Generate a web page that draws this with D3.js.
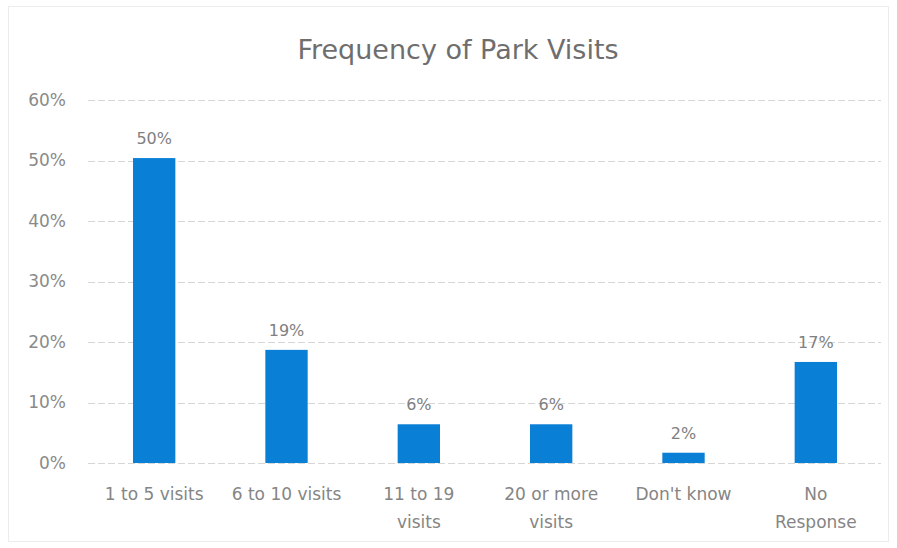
<!DOCTYPE html>
<html>
<head>
<meta charset="utf-8">
<script src="https://cdn.jsdelivr.net/npm/d3@7"></script>
<style>
  html, body { margin: 0; padding: 0; background: #fff; }
  svg { display: block; font-family: "DejaVu Sans", "Open Sans", sans-serif; }
</style>
</head>
<body>
<div id="chart"></div>
<script>
// 차트 데이터
const categories = ["1 to 5 visits", "6 to 10 visits", "11 to 19 visits", "20 or more visits", "Don't know", "No Response"];
const categoryLines = [["1 to 5 visits"], ["6 to 10 visits"], ["11 to 19", "visits"], ["20 or more", "visits"], ["Don't know"], ["No", "Response"]];
const values = [50.4, 18.7, 6.4, 6.4, 1.7, 16.7];
const valueLabels = ["50%", "19%", "6%", "6%", "2%", "17%"];
const yTicks = [0, 10, 20, 30, 40, 50, 60];

const WIDTH = 897, HEIGHT = 548;
const margin = { top: 100, right: 16, bottom: 85, left: 88 };

const svg = d3.select('#chart').append('svg')
  .attr('width', WIDTH)
  .attr('height', HEIGHT);

// 바깥 테두리
svg.append('rect')
  .attr('x', 8.5).attr('y', 6.5)
  .attr('width', WIDTH - 17).attr('height', HEIGHT - 13)
  .attr('fill', 'none')
  .attr('stroke', '#ececec');

const x = d3.scaleBand()
  .domain(categories)
  .range([margin.left, 882])
  .paddingInner(0.68)
  .paddingOuter(0.34);

const y = d3.scaleLinear()
  .domain([0, 60])
  .range([HEIGHT - margin.bottom, margin.top]);

// 제목
svg.append('text')
  .attr('x', 458).attr('y', 59)
  .attr('text-anchor', 'middle')
  .attr('fill', '#6e6e6e')
  .attr('font-size', 27)
  .text('Frequency of Park Visits');

// 그리드
svg.append('g')
  .selectAll('line')
  .data(yTicks)
  .join('line')
  .attr('x1', margin.left).attr('x2', WIDTH - margin.right)
  .attr('y1', d => Math.round(y(d)) + 0.5)
  .attr('y2', d => Math.round(y(d)) + 0.5)
  .attr('stroke', '#d6d6d6')
  .attr('stroke-width', 1)
  .attr('stroke-dasharray', '7 3');

// y축 라벨
const yAxis = d3.axisLeft(y).tickValues(yTicks).tickFormat(d => d + '%').tickSize(0).tickPadding(22);
const yg = svg.append('g')
  .attr('transform', `translate(${margin.left},0)`)
  .call(yAxis);
yg.select('.domain').remove();
yg.selectAll('text')
  .attr('fill', '#8a8a8a')
  .attr('font-size', 17)
  .attr('font-family', '"DejaVu Sans", sans-serif');

// 막대
svg.append('g')
  .selectAll('rect')
  .data(values)
  .join('rect')
  .attr('x', (d, i) => x(categories[i]))
  .attr('y', d => y(d))
  .attr('width', x.bandwidth())
  .attr('height', d => y(0) - y(d))
  .attr('fill', '#0a7fd6');

// 값 라벨
svg.append('g')
  .selectAll('text')
  .data(values)
  .join('text')
  .attr('x', (d, i) => x(categories[i]) + x.bandwidth() / 2)
  .attr('y', d => y(d) - 14)
  .attr('text-anchor', 'middle')
  .attr('fill', '#808080')
  .attr('font-size', 16)
  .text((d, i) => valueLabels[i]);

// 카테고리 라벨
const cat = svg.append('g')
  .selectAll('text')
  .data(categories)
  .join('text')
  .attr('x', d => x(d) + x.bandwidth() / 2)
  .attr('y', 500)
  .attr('text-anchor', 'middle')
  .attr('fill', '#858585')
  .attr('font-size', 17);
cat.each(function(d, i) {
  d3.select(this).selectAll('tspan')
    .data(categoryLines[i])
    .join('tspan')
    .attr('x', x(d) + x.bandwidth() / 2)
    .attr('dy', (t, j) => j === 0 ? 0 : 28)
    .text(t => t);
});
</script>
</body>
</html>
